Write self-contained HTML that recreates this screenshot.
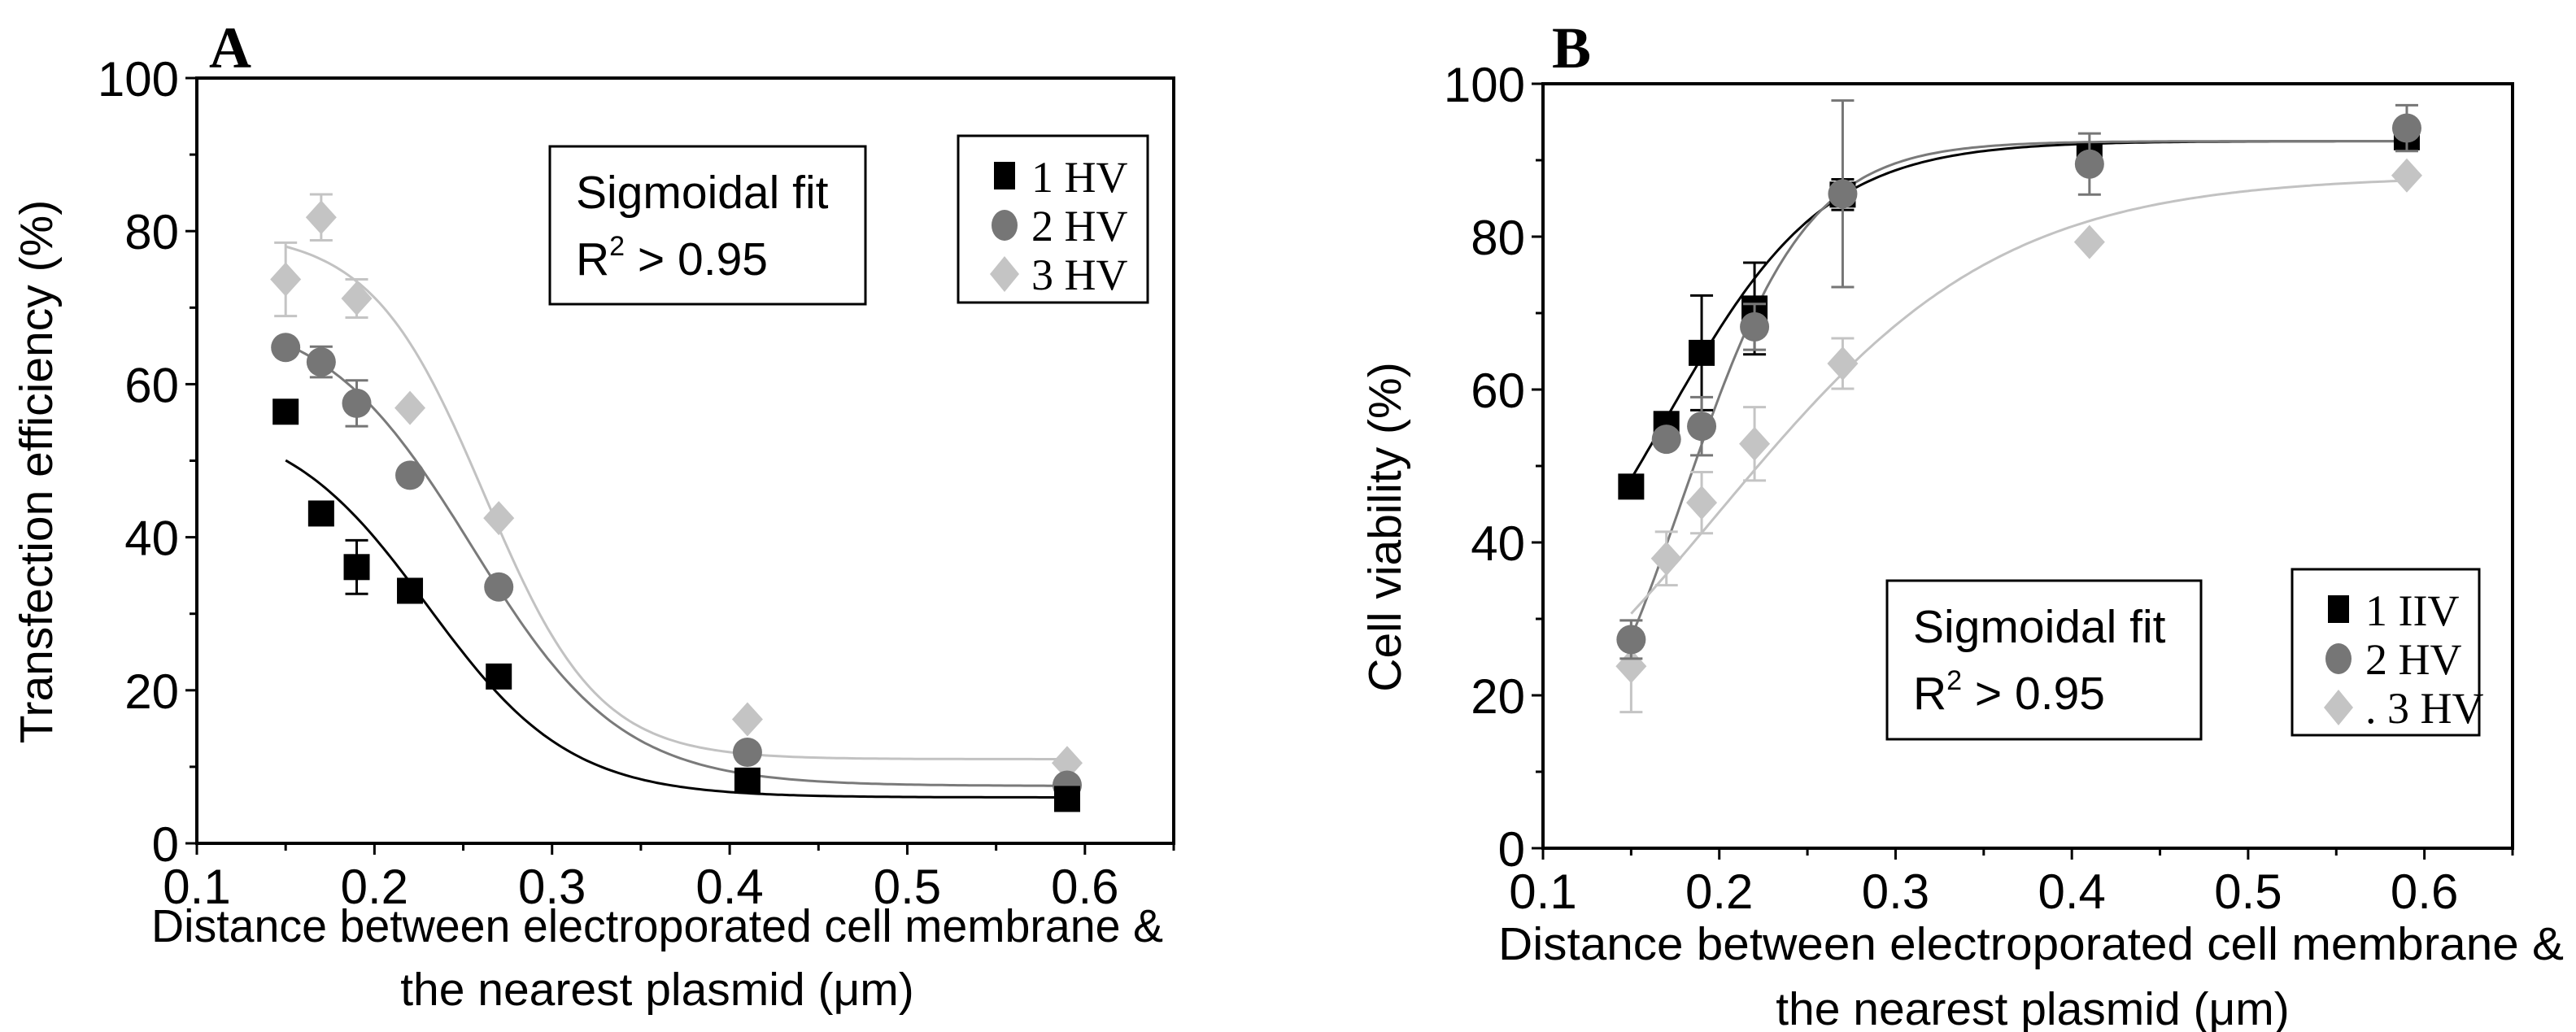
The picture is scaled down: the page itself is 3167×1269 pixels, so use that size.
<!DOCTYPE html>
<html><head><meta charset="utf-8"><style>
html,body{margin:0;padding:0;background:#fff;}
svg{display:block;}
text{font-family:"Liberation Sans",Arial,sans-serif;}
.serif{font-family:"Liberation Serif","Times New Roman",serif;}
</style></head><body>
<svg id="chart" width="3167" height="1269" viewBox="0 0 3167 1269" xmlns="http://www.w3.org/2000/svg"></svg>
<script>
// ---- shared data ----
const xValues = [0.15, 0.17, 0.19, 0.22, 0.27, 0.41, 0.59];
const seriesNames = ["1 HV", "2 HV", "3 HV"];
const xTickLabels = ["0.1", "0.2", "0.3", "0.4", "0.5", "0.6"];
const yTickLabels = ["0", "20", "40", "60", "80", "100"];

// ---- panel A: transfection efficiency ----
const aHV1 = [56.4, 43.1, 36.1, 33.0, 21.8, 8.2, 5.8];
const aHV2 = [64.8, 62.9, 57.5, 48.1, 33.5, 11.9, 7.6];
const aHV3 = [73.7, 81.8, 71.2, 56.9, 42.5, 16.2, 10.5];
const aErr1 = [1, 1.5, 3.5, 1, 1, 1, 0.8];
const aErr2 = [1, 2, 3, 0, 0, 0, 0];
const aErr3 = [4.8, 3, 2.5, 0, 0, 0, 0];
// Boltzmann fit params [A1, A2, x0, dx]
const aFit1 = [56, 6, 0.23, 0.04];
const aFit2 = [70, 7.5, 0.255, 0.042];
const aFit3 = [80, 11, 0.262, 0.032];

// ---- panel B: cell viability ----
const bHV1 = [47.3, 55.5, 64.8, 70.6, 85.5, 90.5, 93.0];
const bHV2 = [27.3, 53.5, 55.2, 68.2, 85.6, 89.5, 94.2];
const bHV3 = [23.8, 37.9, 45.2, 52.9, 63.4, 79.3, 88.0];
const bErr1 = [1, 1, 7.5, 6, 2, 0, 0];
const bErr2 = [2.5, 0, 3.8, 3, 12.2, 4, 3];
const bErr3 = [6, 3.5, 4, 4.8, 3.3, 0, 0];
const bFit1 = [20, 92.5, 0.17, 0.045];
const bFit2 = [0, 92.5, 0.18, 0.035];
const bFit3 = [0, 88, 0.2, 0.08];

const NS = "http://www.w3.org/2000/svg";
const svg = document.getElementById("chart");
function mk(tag, attrs, parent) {
  const e = document.createElementNS(NS, tag);
  for (const k in attrs) e.setAttribute(k, attrs[k]);
  (parent || svg).appendChild(e);
  return e;
}
function boltz(p, x) { return p[1] + (p[0] - p[1]) / (1 + Math.exp((x - p[2]) / p[3])); }

const colors = ["#000000", "#767676", "#c4c4c4"];
const lineColors = ["#000000", "#7a7a7a", "#c2c2c2"];

function drawPanel(cfg) {
  const g = mk("g", {});
  
  
  const L = cfg.left, R = cfg.right, T = cfg.top, B = cfg.bottom;
  const xs = v => L + (v - 0.1) / 0.55 * (R - L);
  const ys = v => B - v / 100 * (B - T);

  const frame = mk("rect", {x: L, y: T, width: R - L, height: B - T, fill: "none", stroke: "#000", "stroke-width": 4}, g);
  
  

  for (let i = 0; i <= 11; i++) {
    const v = 0.1 + i * 0.05;
    const x = xs(v);
    const t = mk("line", {x1: x, x2: x, y1: B, y2: B + (i % 2 === 0 ? 14 : 9), stroke: "#000", "stroke-width": 3}, g);
    
    
  }
  xTickLabels.forEach((s, i) => {
    const t = mk("text", {x: xs(parseFloat(s)), y: B + 74, "font-size": 60, "text-anchor": "middle"}, g);
    t.textContent = s;
    
    
  });
  for (let i = 0; i <= 10; i++) {
    const v = i * 10;
    const y = ys(v);
    const t = mk("line", {x1: L, x2: L - (i % 2 === 0 ? 14 : 9), y1: y, y2: y, stroke: "#000", "stroke-width": 3}, g);
    
    
  }
  yTickLabels.forEach(s => {
    const t = mk("text", {x: L - 22, y: ys(parseFloat(s)) + 22, "font-size": 60, "text-anchor": "end"}, g);
    t.textContent = s;
    
    
  });

  cfg.fits.forEach((p, si) => {
    let d = "";
    for (let k = 0; k <= 200; k++) {
      const x = 0.15 + (0.59 - 0.15) * k / 200;
      d += (k ? "L" : "M") + xs(x).toFixed(1) + "," + ys(boltz(p, x)).toFixed(1);
    }
    const c = mk("path", {d: d, fill: "none", stroke: lineColors[si], "stroke-width": 3}, g);
    
    
  });

  cfg.order.forEach(si => {
    const vals = cfg.series[si], errs = cfg.errs[si];
    vals.forEach((v, i) => {
      const cx = xs(xValues[i]), cy = ys(v);
      const e = errs[i];
      if (e > 0) {
        const eb = mk("path", {d: `M${cx},${ys(v - e)}V${ys(v + e)}M${cx - 14},${ys(v - e)}h28M${cx - 14},${ys(v + e)}h28`, stroke: colors[si], "stroke-width": 3, fill: "none"}, g);
        
        
      }
      let m;
      if (si === 0) m = mk("rect", {x: cx - 16, y: cy - 16, width: 32, height: 32, fill: colors[0]}, g);
      else if (si === 1) m = mk("circle", {cx: cx, cy: cy, r: 18, fill: colors[1]}, g);
      else m = mk("polygon", {points: `${cx},${cy - 21} ${cx + 19},${cy} ${cx},${cy + 21} ${cx - 19},${cy}`, fill: colors[2]}, g);
      
      
    });
  });

  const bx = cfg.box;
  const br = mk("rect", {x: bx[0], y: bx[1], width: bx[2], height: bx[3], fill: "#fff", stroke: "#000", "stroke-width": 3}, g);
  
  
  const t1 = mk("text", {x: bx[0] + 32, y: bx[1] + 76, "font-size": 57}, g);
  t1.textContent = "Sigmoidal fit";
  
  
  const t2 = mk("text", {x: bx[0] + 32, y: bx[1] + 158, "font-size": 57}, g);
  t2.innerHTML = 'R<tspan dy="-24" font-size="34">2</tspan><tspan dy="24"> &gt; 0.95</tspan>';
  
  

  const lg = cfg.legend;
  const lr = mk("rect", {x: lg[0], y: lg[1], width: lg[2], height: lg[3], fill: "#fff", stroke: "#000", "stroke-width": 3}, g);
  
  
  cfg.legendNames.forEach((nm, si) => {
    const cy = lg[1] + 50 + si * 60;
    const cx = lg[0] + 57;
    let m;
    if (si === 0) m = mk("rect", {x: cx - 13, y: cy - 18, width: 26, height: 34, fill: colors[0]}, g);
    else if (si === 1) m = mk("ellipse", {cx: cx, cy: cy, rx: 16, ry: 19, fill: colors[1]}, g);
    else m = mk("polygon", {points: `${cx},${cy - 22} ${cx + 18},${cy} ${cx},${cy + 22} ${cx - 18},${cy}`, fill: colors[2]}, g);
    
    
    const t = mk("text", {x: lg[0] + 90, y: cy + 19, "font-size": 54, "class": "serif"}, g);
    t.textContent = nm;
    
    
  });

  const pl = mk("text", {x: cfg.letterX, y: 83, "font-size": 72, "font-weight": "bold", "class": "serif"}, g);
  pl.textContent = cfg.letter;
  
  

  const xt1 = mk("text", {x: cfg.xt[0], y: cfg.xt[1], "font-size": 57, textLength: cfg.xt[2], lengthAdjust: "spacingAndGlyphs"}, g);
  xt1.textContent = "Distance between electroporated cell membrane &";
  
  
  const xt2 = mk("text", {x: cfg.xt2[0], y: cfg.xt2[1], "font-size": 57, "text-anchor": "middle"}, g);
  xt2.textContent = "the nearest plasmid (\u03bcm)";
  
  
  const yt = mk("text", {x: 0, y: 0, "font-size": 57, "text-anchor": "middle", transform: `translate(${cfg.yt[0]},${cfg.yt[1]}) rotate(-90)`}, g);
  yt.textContent = cfg.ytitle;
  
  
}

drawPanel({
  name: "panel-a", letter: "A", letterX: 257,
  left: 242, right: 1443, top: 96, bottom: 1037,
  series: [aHV1, aHV2, aHV3], errs: [aErr1, aErr2, aErr3], fits: [aFit1, aFit2, aFit3],
  order: [2, 1, 0],
  box: [676, 180, 388, 194], legend: [1178, 167, 233, 205],
  legendNames: seriesNames,
  xt: [186, 1158, 1244], xt2: [808, 1236],
  yt: [64, 580], ytitle: "Transfection efficiency (%)"
});
drawPanel({
  name: "panel-b", letter: "B", letterX: 1908,
  left: 1897, right: 3089, top: 103, bottom: 1043,
  series: [bHV1, bHV2, bHV3], errs: [bErr1, bErr2, bErr3], fits: [bFit1, bFit2, bFit3],
  order: [2, 0, 1],
  box: [2320, 714, 386, 195], legend: [2818, 700, 230, 204],
  legendNames: ["1 IIV", "2 HV", ". 3 HV"],
  xt: [1842, 1180, 1310], xt2: [2499, 1260],
  yt: [1722, 648], ytitle: "Cell viability (%)"
});
</script>
</body></html>
